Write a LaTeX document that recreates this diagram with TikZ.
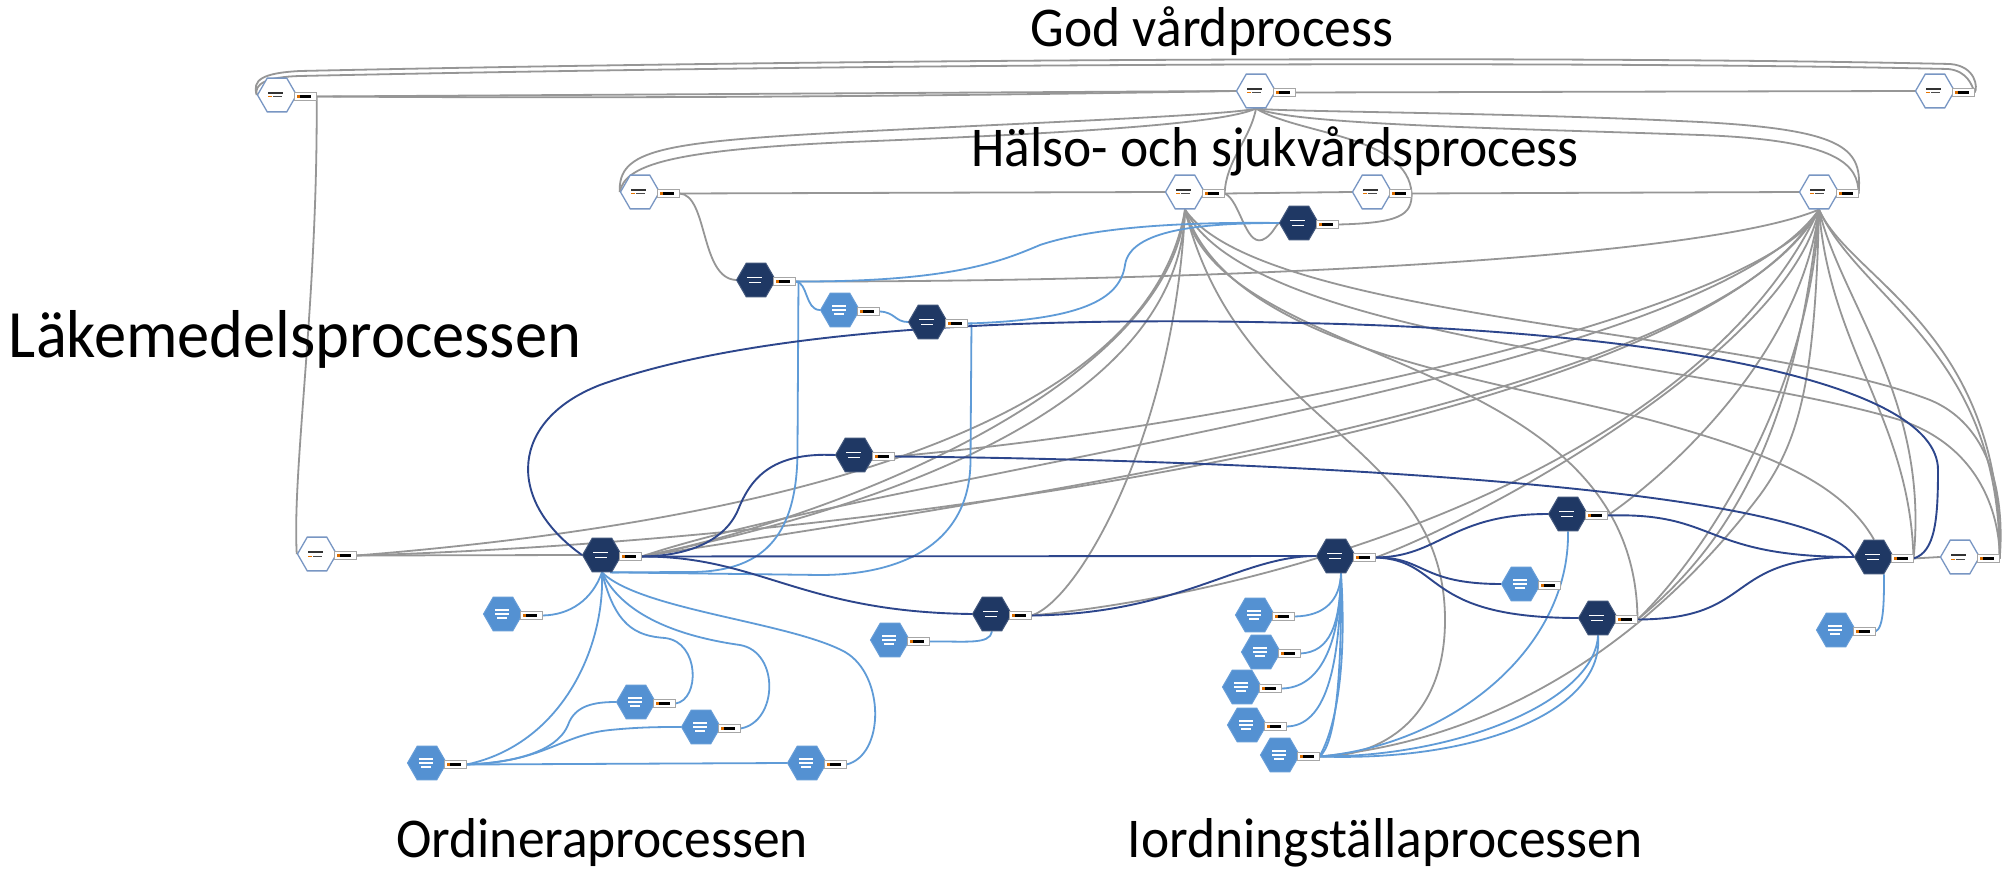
\documentclass[tikz,border=0pt]{standalone}
\usepackage{fontspec}
\setmainfont{Carlito}
\usetikzlibrary{shapes.geometric}
\pgfdeclarelayer{bg}
\pgfsetlayers{bg,main}

\definecolor{navyN}{RGB}{31,56,100}
\definecolor{skyN}{RGB}{84,145,210}
\definecolor{rimN}{RGB}{120,150,195}
\definecolor{edgeG}{RGB}{150,150,150}
\definecolor{edgeL}{RGB}{95,155,215}
\definecolor{edgeD}{RGB}{45,70,140}

\tikzset{
  hexbase/.style={regular polygon, regular polygon sides=6, minimum size=39pt,
    inner sep=0pt, line width=1pt},
  dk/.style={hexbase, fill=navyN, draw=navyN!85!white,
    path picture={
      \draw[white, line width=1.1pt] ([shift={(-9pt,2.5pt)}]path picture bounding box.center) -- ++(15pt,0pt);
      \draw[white, line width=1.1pt] ([shift={(-7pt,-2.5pt)}]path picture bounding box.center) -- ++(12pt,0pt);}},
  lt/.style={hexbase, fill=skyN, draw=skyN!90!white,
    path picture={
      \draw[white, line width=1.1pt] ([shift={(-8pt,4pt)}]path picture bounding box.center) -- ++(14pt,0pt);
      \draw[white, line width=1.1pt] ([shift={(-8pt,0pt)}]path picture bounding box.center) -- ++(14pt,0pt);
      \draw[white, line width=1.1pt] ([shift={(-6pt,-4pt)}]path picture bounding box.center) -- ++(10pt,0pt);}},
  wt/.style={hexbase, fill=white, draw=rimN, line width=1.3pt,
    path picture={
      \draw[black!80, line width=1.2pt] ([shift={(-9pt,2pt)}]path picture bounding box.center) -- ++(15pt,0pt);
      \draw[orange!90!black, line width=1pt] ([shift={(-9pt,-2pt)}]path picture bounding box.center) -- ++(4pt,0pt);
      \draw[black!70, line width=1pt] ([shift={(-4pt,-2pt)}]path picture bounding box.center) -- ++(9pt,0pt);}},
  badge/.style={rectangle, draw=black!35, fill=white, line width=0.8pt,
    minimum width=22pt, minimum height=8pt, inner sep=0pt,
    path picture={
      \fill[black] ([shift={(-5pt,-1.3pt)}]path picture bounding box.center) rectangle ++(11pt,2.6pt);
      \fill[orange!85!black] ([shift={(-8pt,-1.3pt)}]path picture bounding box.center) rectangle ++(2.5pt,2.6pt);}},
  gline/.style={draw=edgeG, line width=1.8pt},
  lline/.style={draw=edgeL, line width=1.8pt},
  dline/.style={draw=edgeD, line width=1.9pt},
  ttl/.style={anchor=base, inner sep=0pt, font=\fontsize{53.5}{60}\selectfont},
}

% hexagon with its port badge on the right
\newcommand\hexat[4]{%
  \node[#2] (#1) at (#3,#4) {};
  \node[badge] (#1b) at ([xshift=8pt,yshift=-1.5pt]#1.east) {};}
% titles are set a little taller than wide
\newcommand\tall[1]{\scalebox{1}[1.05]{#1}}

\begin{document}
\begin{tikzpicture}[x=1pt,y=-1pt]
\begin{pgfonlayer}{bg}
\fill[white] (0,0) rectangle (2005,874);
\end{pgfonlayer}
\useasboundingbox (0,0) rectangle (2005,874);

% top tier
\hexat{A1}{wt}{277}{95}
\hexat{A2}{wt}{1256}{91}
\hexat{A3}{wt}{1935}{91}
% second tier
\hexat{B1}{wt}{640}{192}
\hexat{B2}{wt}{1185}{192}
\hexat{B3}{wt}{1372}{192}
\hexat{B4}{wt}{1819}{192}
\hexat{C1}{dk}{1299}{223}
% medication process
\hexat{D1}{dk}{756}{280}
\hexat{D2}{lt}{840}{310}
\hexat{D3}{dk}{928}{322}
\hexat{E1}{dk}{855}{455}
\hexat{F0}{wt}{317}{554}
\hexat{F1}{dk}{602}{555}
\hexat{F2}{dk}{1336}{556}
\hexat{F3}{dk}{1568}{514}
\hexat{F4}{lt}{1521}{584}
\hexat{F5}{dk}{1598}{618}
\hexat{F6}{dk}{1874}{557}
\hexat{F7}{wt}{1960}{557}
\hexat{G1}{dk}{992}{614}
\hexat{G2}{lt}{890}{640}
\hexat{H1}{lt}{503}{614}
\hexat{H2}{lt}{1836}{630}
% prescribing cluster
\hexat{O1}{lt}{636}{702}
\hexat{O2}{lt}{701}{727}
\hexat{O3}{lt}{427}{763}
\hexat{O4}{lt}{807}{763}
% preparation cluster
\hexat{I1}{lt}{1255}{615}
\hexat{I2}{lt}{1261}{652}
\hexat{I3}{lt}{1242}{687}
\hexat{I4}{lt}{1247}{725}
\hexat{I5}{lt}{1280}{755}

\begin{pgfonlayer}{bg}
% ---- grey: top tier
\draw[gline] (A1.west) .. controls (252,80) and (262,73) .. (300,71) .. controls (900,58) and (1600,56) .. (1950,64) .. controls (1976,66) and (1978,88) .. (A3b.east);
\draw[gline] (A1.west) .. controls (254,84) and (266,77) .. (300,76) .. controls (900,63) and (1600,61) .. (1948,69) .. controls (1968,71) and (1972,86) .. (A3b.east);
\draw[gline] (A1b.east) -- (A2.west);
\draw[gline] (A1b.east) .. controls (700,99) and (1000,95) .. (A2.west);
\draw[gline] (A2b.east) -- (A3.west);
\draw[gline] (A1b.east) .. controls (318,300) and (292,470) .. (F0.west);
% grey: top to second tier
\draw[gline] (A2.south) .. controls (1230,115) and (1050,122) .. (850,132) .. controls (660,142) and (618,150) .. (B1.west);
\draw[gline] (A2.south) .. controls (1220,125) and (1050,134) .. (850,142) .. controls (670,150) and (625,165) .. (B1.west);
\draw[gline] (A2.south) .. controls (1280,112) and (1500,112) .. (1700,122) .. controls (1850,130) and (1862,150) .. (B4b.east);
\draw[gline] (A2.south) .. controls (1300,125) and (1500,128) .. (1700,135) .. controls (1840,140) and (1858,165) .. (B4b.east);
\draw[gline] (A2.south) .. controls (1300,135) and (1408,135) .. (B3b.east);
\draw[gline] (A2.south) .. controls (1250,140) and (1226,160) .. (B2b.east);
\draw[gline] (B1b.east) -- (B2.west);
\draw[gline] (B2b.east) -- (B3.west);
\draw[gline] (B3b.east) -- (B4.west);
\draw[gline] (B1b.east) .. controls (708,195) and (700,278) .. (D1.west);
\draw[gline] (B2b.east) .. controls (1240,200) and (1245,245) .. (1262,240) .. controls (1272,236) and (1275,226) .. (C1.west);
\draw[gline] (B3b.east) .. controls (1412,215) and (1400,223) .. (C1b.east);
\draw[gline] (D1b.east) .. controls (1200,282) and (1700,260) .. (B4.south);
% grey: fan from B2
\draw[gline] (B2.south) .. controls (1180,400) and (900,505) .. (F1b.east);
\draw[gline] (B2.south) .. controls (1170,380) and (850,515) .. (F1b.east);
\draw[gline] (B2.south) .. controls (1175,430) and (1080,600) .. (G1b.east);
\draw[gline] (B2.south) .. controls (1240,430) and (1445,440) .. (1445,620) .. controls (1445,720) and (1380,757) .. (I5b.east);
\draw[gline] (B2.south) .. controls (1230,350) and (1500,380) .. (1650,420) .. controls (1760,450) and (1840,480) .. (F6.north);
\draw[gline] (B2.south) .. controls (1250,340) and (1700,360) .. (1900,420) .. controls (1990,450) and (2000,530) .. (F7b.east);
\draw[gline] (B2.south) .. controls (1260,320) and (1750,330) .. (1930,400) .. controls (2002,430) and (2003,520) .. (F7b.east);
\draw[gline] (B2.south) .. controls (1220,370) and (1636,350) .. (F5b.east);
\draw[gline] (F0b.east) .. controls (800,520) and (1150,420) .. (B2.south);
% grey: fan from B4
\draw[gline] (B4.south) .. controls (1700,380) and (900,470) .. (F1b.east);
\draw[gline] (B4.south) .. controls (1720,400) and (1000,500) .. (F1b.east);
\draw[gline] (B4.south) .. controls (1700,420) and (900,540) .. (F0b.east);
\draw[gline] (B4.south) .. controls (1780,300) and (1300,420) .. (E1b.east);
\draw[gline] (B4.south) .. controls (1790,350) and (1480,520) .. (F2b.east);
\draw[gline] (B4.south) .. controls (1800,360) and (1660,480) .. (F3b.east);
\draw[gline] (B4.south) .. controls (1810,400) and (1700,560) .. (F5b.east);
\draw[gline] (B4.south) .. controls (1800,380) and (1760,520) .. (F5b.east);
\draw[gline] (B4.south) .. controls (1815,380) and (1800,440) .. (1760,495) .. controls (1650,640) and (1500,740) .. (I5b.east);
\draw[gline] (B4.south) .. controls (1830,350) and (1910,420) .. (F6b.east);
\draw[gline] (B4.south) .. controls (1840,300) and (1930,400) .. (F6b.east);
\draw[gline] (B4.south) .. controls (1860,300) and (2000,350) .. (F7b.east);
\draw[gline] (B4.south) .. controls (1850,280) and (2003,330) .. (F7b.east);
\draw[gline] (G1b.east) .. controls (1300,590) and (1700,460) .. (B4.south);
\draw[gline] (F0b.east) -- (F1.west);
\draw[gline] (F6b.east) -- (F7.west);

% ---- light blue
\draw[lline] (D1b.east) .. controls (950,282) and (1000,262) .. (1040,245) .. controls (1100,225) and (1200,222) .. (C1.west);
\draw[lline] (D3b.east) .. controls (1080,320) and (1120,300) .. (1125,265) .. controls (1130,230) and (1200,223) .. (C1.west);
\draw[lline] (D1b.east) .. controls (808,282) and (805,310) .. (D2.west);
\draw[lline] (D2b.east) .. controls (895,312) and (895,322) .. (D3.west);
\draw[lline] (D1b.east) -- ++(3,0) -- (797.5,450) .. controls (797.5,540) and (760,572) .. (690,572) -- ([xshift=8pt]F1.south);
\draw[lline] (D3b.east) -- ++(4,0) -- (970.5,460) .. controls (970.5,545) and (900,575) .. (820,575) -- ([xshift=10pt]F1.south);
\draw[lline] (F1.south) .. controls (592,600) and (570,615) .. (H1b.east);
\draw[lline] (F1.south) .. controls (605,650) and (560,745) .. (O3b.east);
\draw[lline] (F1.south) .. controls (615,625) and (635,636) .. (665,638) .. controls (700,642) and (700,700) .. (O1b.east);
\draw[lline] (F1.south) .. controls (625,620) and (690,638) .. (740,645) .. controls (780,652) and (778,722) .. (O2b.east);
\draw[lline] (F1.south) .. controls (640,610) and (790,622) .. (845,652) .. controls (885,675) and (885,755) .. (O4b.east);
\draw[lline] (O3b.east) .. controls (530,762) and (560,745) .. (568,725) .. controls (575,705) and (595,702) .. (O1.west);
\draw[lline] (O3b.east) .. controls (545,762) and (560,735) .. (610,730) .. controls (640,727) and (660,727) .. (O2.west);
\draw[lline] (O3b.east) -- (O4.west);
\draw[lline] (G2b.east) .. controls (965,641) and (990,645) .. (G1.south);
\draw[lline] ([xshift=5pt]F2.south) .. controls (1340,600) and (1325,616) .. (I1b.east);
\draw[lline] ([xshift=5pt]F2.south) .. controls (1340,625) and (1330,652) .. (I2b.east);
\draw[lline] ([xshift=5pt]F2.south) .. controls (1340,645) and (1320,688) .. (I3b.east);
\draw[lline] ([xshift=5pt]F2.south) .. controls (1340,670) and (1325,726) .. (I4b.east);
\draw[lline] ([xshift=5pt]F2.south) .. controls (1342,680) and (1335,745) .. (I5b.east);
\draw[lline] ([xshift=5pt]F2.south) .. controls (1346,650) and (1340,720) .. (I5b.east);
\draw[lline] (F3.south) .. controls (1570,650) and (1450,745) .. (I5b.east);
\draw[lline] (F5.south) .. controls (1595,700) and (1460,757) .. (I5b.east);
\draw[lline] (F5.south) .. controls (1605,710) and (1480,762) .. (I5b.east);
\draw[lline] ([xshift=10pt]F6.south) .. controls (1884,600) and (1884,628) .. (H2b.east);

% ---- dark blue
\draw[dline] (F1.west) .. controls (505,500) and (510,420) .. (600,385) .. controls (780,320) and (1100,318) .. (1300,323) .. controls (1650,330) and (1938,380) .. (1938,470) .. controls (1938,520) and (1935,552) .. (F6b.east);
\draw[dline] (E1.west) .. controls (770,452) and (750,480) .. (738,510) .. controls (725,540) and (690,556) .. (F1b.east);
\draw[dline] (E1b.east) .. controls (1300,460) and (1820,490) .. (F6.west);
\draw[dline] (F1b.east) -- (F2.west);
\draw[dline] (F1b.east) .. controls (760,556) and (800,612) .. (G1.west);
\draw[dline] (G1b.east) .. controls (1180,614) and (1240,556) .. (F2.west);
\draw[dline] (F2b.east) .. controls (1440,557) and (1450,514) .. (F3.west);
\draw[dline] (F2b.east) .. controls (1425,557) and (1420,584) .. (F4.west);
\draw[dline] (F2b.east) .. controls (1445,560) and (1420,618) .. (F5.west);
\draw[dline] (F3b.east) .. controls (1720,512) and (1700,557) .. (F6.west);
\draw[dline] (F5b.east) .. controls (1760,619) and (1720,557) .. (F6.west);
\end{pgfonlayer}

% process titles
\node[ttl] (tGod) at (1212,47) {\tall{God vårdprocess}};
\node[ttl] (tHS) at (1275,167) {\tall{Hälso- och sjukvårdsprocess}};
\node[ttl, font=\fontsize{64.5}{72}\selectfont] (tLM) at (295,358) {\tall{Läkemedelsprocessen}};
\node[ttl] (tOrd) at (602,857) {\tall{Ordineraprocessen}};
\node[ttl] (tIord) at (1385,857) {\tall{Iordningställaprocessen}};
\end{tikzpicture}
\end{document}
